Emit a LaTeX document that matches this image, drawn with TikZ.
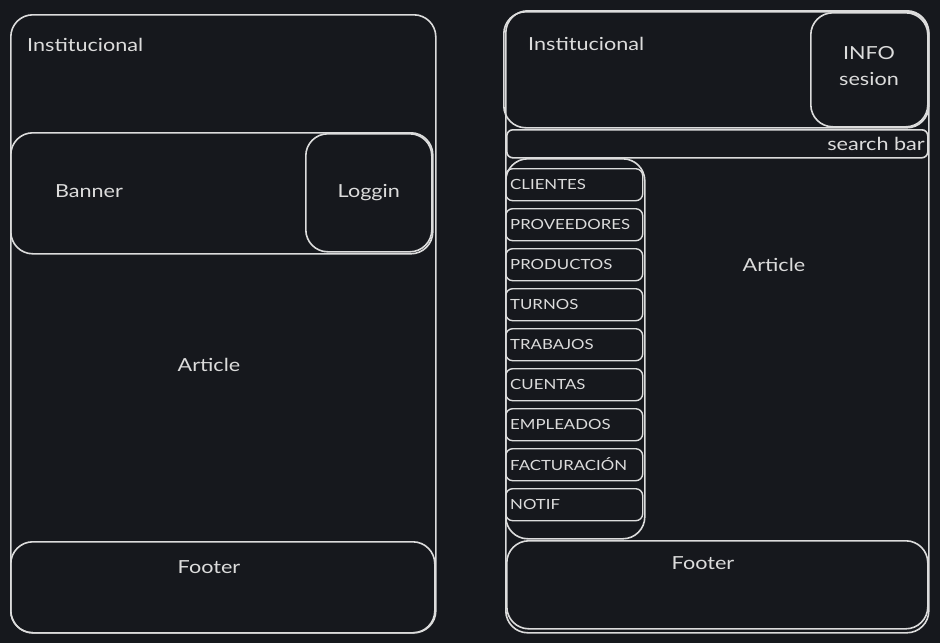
\documentclass[tikz,border=0pt]{standalone}
\usepackage{fontspec}
\setmainfont{Lato}[FakeStretch=1.2]
\usepackage{tikz}
\usetikzlibrary{positioning}

\definecolor{canvas}{HTML}{16181D}
\definecolor{ink}{HTML}{DCDCDC}

\tikzset{
  box/.style={draw=ink, line width=1.6pt, rounded corners=22pt, inner sep=0pt, anchor=north west},
  menuitem/.style={draw=ink, line width=1.4pt, rounded corners=7pt, inner sep=0pt, anchor=north west,
    minimum width=137pt, minimum height=32pt},
  label/.style={text=ink, font=\fontsize{18}{20}\selectfont, inner sep=0pt},
  menulabel/.style={text=ink, font=\fontsize{14}{15}\selectfont, inner sep=0pt, anchor=west},
}

\begin{document}
\begin{tikzpicture}[x=1pt, y=-1pt]
        % Canvas
        \fill[canvas] (0,0) rectangle (940,643);
        \useasboundingbox (0,0) rectangle (940,643);
        % Left layout
        \node[box, minimum width=425pt, minimum height=618pt] (lpage) at (10,14) {};
        \node[box, minimum width=422pt, minimum height=121pt] (lbanner) at (10,132) {};
        \node[box, minimum width=126pt, minimum height=118pt] (lloggin) at (305,133) {};
        \node[box, minimum width=424pt, minimum height=91pt] (lfooter) at (10,541) {};
        \node[label, anchor=west] (linst) at (27,45) {Institucional};
        \node[label] (lbannertxt) at (89,191) {Banner};
        \node[label] at (lloggin.center) (llogtxt) {Loggin};
        \node[label] (larticle) at (209,365) {Article};
        \node[label] (lfoottxt) at (209,567) {Footer};
        % Right layout
        \node[box, minimum width=423pt, minimum height=622pt] (rpage) at (505,10) {};
        \node[box, minimum width=425pt, minimum height=116pt] (rinst) at (503,11) {};
        \node[box, minimum width=117pt, minimum height=114pt] (rinfo) at (810,12) {};
        \node[box, rounded corners=6pt, minimum width=421pt, minimum height=28pt] (rsearch) at (506,129) {};
        \node[box, minimum width=139pt, minimum height=380pt] (rmenu) at (505,158) {};
        \node[box, minimum width=421pt, minimum height=88pt] (rfooter) at (506,540) {};
        \node[label, anchor=west] (rinsttxt) at (528,44) {Institucional};
        \node[label, align=center] (rinfotxt) at (869,66) {INFO\\[6pt]sesion};
        \node[label, anchor=east] (rsearchtxt) at (925,144) {search bar};
        \node[label] (rarticle) at (774,265) {Article};
        \node[label] (rfoottxt) at (703,563) {Footer};
        % Menu
        \foreach \name [count=\i from 0] in {CLIENTES,PROVEEDORES,PRODUCTOS,TURNOS,TRABAJOS,CUENTAS,EMPLEADOS,FACTURACIÓN,NOTIF}{
          \node[menuitem] (item\i) at (505,{168+40*\i}) {};
          \node[menulabel] (itemtxt\i) at (510,{184+40*\i}) {\name};
        }
    \end{tikzpicture}
\end{document}
